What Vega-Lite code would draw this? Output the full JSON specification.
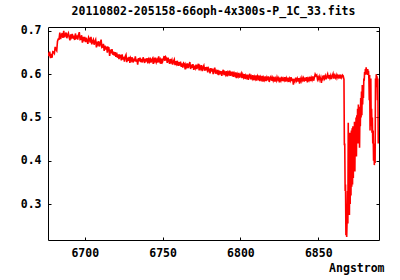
{
  "$schema": "https://vega.github.io/schema/vega-lite/v6.json",
  "autosize": "none",
  "width": 331,
  "height": 213,
  "padding": {"left": 48, "top": 27, "right": 21, "bottom": 40},
  "background": "white",
  "title": {"text": "20110802-205158-66oph-4x300s-P_1C_33.fits", "font": "DejaVu Sans Mono", "fontSize": 11.5, "fontWeight": "bold", "color": "black", "offset": 7, "anchor": "middle"},
  "config": {
    "view": {"stroke": "black", "strokeWidth": 1},
    "axis": {"domain": false, "grid": false, "labelFont": "DejaVu Sans Mono", "labelFontSize": 11.5, "labelFontWeight": "bold", "labelColor": "black", "tickColor": "black", "tickSize": -3, "tickWidth": 1, "titleFont": "DejaVu Sans Mono", "titleFontSize": 11.5, "titleFontWeight": "bold", "titleColor": "black"}
  },
  "data": {"values": [
{"w":6676.5,"f":0.650},{"w":6677.0,"f":0.642},{"w":6677.5,"f":0.652},{"w":6678.0,"f":0.637},{"w":6678.5,"f":0.647},{"w":6679.0,"f":0.638},{"w":6679.5,"f":0.652},{"w":6680.0,"f":0.651},{"w":6680.5,"f":0.648},{"w":6681.0,"f":0.663},{"w":6681.5,"f":0.657},{"w":6682.0,"f":0.654},{"w":6682.5,"f":0.676},{"w":6683.0,"f":0.681},{"w":6683.5,"f":0.681},
{"w":6684.0,"f":0.696},{"w":6684.5,"f":0.681},{"w":6685.0,"f":0.689},{"w":6685.5,"f":0.695},{"w":6686.0,"f":0.684},{"w":6686.5,"f":0.700},{"w":6687.0,"f":0.685},{"w":6687.5,"f":0.691},{"w":6688.0,"f":0.696},{"w":6688.5,"f":0.683},{"w":6689.0,"f":0.691},{"w":6689.5,"f":0.695},{"w":6690.0,"f":0.685},{"w":6690.5,"f":0.678},{"w":6691.0,"f":0.692},{"w":6691.5,"f":0.686},{"w":6692.0,"f":0.693},{"w":6692.5,"f":0.682},{"w":6693.0,"f":0.689},{"w":6693.5,"f":0.679},{"w":6694.0,"f":0.694},{"w":6694.5,"f":0.684},{"w":6695.0,"f":0.687},{"w":6695.5,"f":0.680},{"w":6696.0,"f":0.690},{"w":6696.5,"f":0.697},{"w":6697.0,"f":0.680},{"w":6697.5,"f":0.681},{"w":6698.0,"f":0.690},{"w":6698.5,"f":0.673},{"w":6699.0,"f":0.686},{"w":6699.5,"f":0.680},{"w":6700.0,"f":0.686},
{"w":6700.5,"f":0.674},{"w":6701.0,"f":0.684},{"w":6701.5,"f":0.677},{"w":6702.0,"f":0.670},{"w":6702.5,"f":0.685},{"w":6703.0,"f":0.681},{"w":6703.5,"f":0.673},{"w":6704.0,"f":0.686},{"w":6704.5,"f":0.669},{"w":6705.0,"f":0.676},{"w":6705.5,"f":0.680},{"w":6706.0,"f":0.668},{"w":6706.5,"f":0.676},{"w":6707.0,"f":0.680},{"w":6707.5,"f":0.662},{"w":6708.0,"f":0.675},{"w":6708.5,"f":0.669},{"w":6709.0,"f":0.676},{"w":6709.5,"f":0.664},{"w":6710.0,"f":0.671},{"w":6710.5,"f":0.680},{"w":6711.0,"f":0.662},{"w":6711.5,"f":0.663},{"w":6712.0,"f":0.670},{"w":6712.5,"f":0.654},{"w":6713.0,"f":0.666},{"w":6713.5,"f":0.657},{"w":6714.0,"f":0.664},{"w":6714.5,"f":0.650},{"w":6715.0,"f":0.662},{"w":6715.5,"f":0.661},{"w":6716.0,"f":0.642},{"w":6716.5,"f":0.657},{"w":6717.0,"f":0.648},{"w":6717.5,"f":0.658},{"w":6718.0,"f":0.645},{"w":6718.5,"f":0.652},{"w":6719.0,"f":0.643},{"w":6719.5,"f":0.651},{"w":6720.0,"f":0.640},
{"w":6720.5,"f":0.650},{"w":6721.0,"f":0.638},{"w":6721.5,"f":0.646},{"w":6722.0,"f":0.635},{"w":6722.5,"f":0.644},{"w":6723.0,"f":0.643},{"w":6723.5,"f":0.632},{"w":6724.0,"f":0.646},{"w":6724.5,"f":0.634},{"w":6725.0,"f":0.640},{"w":6725.5,"f":0.629},{"w":6726.0,"f":0.641},{"w":6726.5,"f":0.645},{"w":6727.0,"f":0.628},{"w":6727.5,"f":0.638},{"w":6728.0,"f":0.631},{"w":6728.5,"f":0.640},{"w":6729.0,"f":0.626},{"w":6729.5,"f":0.637},{"w":6730.0,"f":0.632},{"w":6730.5,"f":0.639},{"w":6731.0,"f":0.627},{"w":6731.5,"f":0.636},{"w":6732.0,"f":0.630},{"w":6732.5,"f":0.641},{"w":6733.0,"f":0.629},{"w":6733.5,"f":0.634},{"w":6734.0,"f":0.622},{"w":6734.5,"f":0.637},{"w":6735.0,"f":0.630},{"w":6735.5,"f":0.638},{"w":6736.0,"f":0.628},{"w":6736.5,"f":0.635},{"w":6737.0,"f":0.627},{"w":6737.5,"f":0.639},{"w":6738.0,"f":0.633},{"w":6738.5,"f":0.626},{"w":6739.0,"f":0.636},{"w":6739.5,"f":0.629},{"w":6740.0,"f":0.637},{"w":6740.5,"f":0.625},{"w":6741.0,"f":0.634},{"w":6741.5,"f":0.629},{"w":6742.0,"f":0.638},{"w":6742.5,"f":0.627},{"w":6743.0,"f":0.633},{"w":6743.5,"f":0.636},{"w":6744.0,"f":0.624},{"w":6744.5,"f":0.635},{"w":6745.0,"f":0.630},{"w":6745.5,"f":0.638},{"w":6746.0,"f":0.628},{"w":6746.5,"f":0.633},{"w":6747.0,"f":0.627},{"w":6747.5,"f":0.641},{"w":6748.0,"f":0.630},{"w":6748.5,"f":0.634},{"w":6749.0,"f":0.624},{"w":6749.5,"f":0.636},{"w":6750.0,"f":0.629},{"w":6750.5,"f":0.635},{"w":6751.0,"f":0.642},{"w":6751.5,"f":0.631},{"w":6752.0,"f":0.640},{"w":6752.5,"f":0.637},{"w":6753.0,"f":0.626},{"w":6753.5,"f":0.638},{"w":6754.0,"f":0.632},{"w":6754.5,"f":0.624},{"w":6755.0,"f":0.635},{"w":6755.5,"f":0.628},{"w":6756.0,"f":0.633},{"w":6756.5,"f":0.622},{"w":6757.0,"f":0.630},{"w":6757.5,"f":0.634},{"w":6758.0,"f":0.621},{"w":6758.5,"f":0.630},{"w":6759.0,"f":0.624},{"w":6759.5,"f":0.631},{"w":6760.0,"f":0.619},
{"w":6760.5,"f":0.628},{"w":6761.0,"f":0.620},{"w":6761.5,"f":0.629},{"w":6762.0,"f":0.617},{"w":6762.5,"f":0.625},{"w":6763.0,"f":0.615},{"w":6763.5,"f":0.626},{"w":6764.0,"f":0.624},{"w":6764.5,"f":0.611},{"w":6765.0,"f":0.622},{"w":6765.5,"f":0.617},{"w":6766.0,"f":0.625},{"w":6766.5,"f":0.614},{"w":6767.0,"f":0.621},{"w":6767.5,"f":0.628},{"w":6768.0,"f":0.612},{"w":6768.5,"f":0.622},{"w":6769.0,"f":0.615},{"w":6769.5,"f":0.623},{"w":6770.0,"f":0.610},{"w":6770.5,"f":0.620},{"w":6771.0,"f":0.614},{"w":6771.5,"f":0.622},{"w":6772.0,"f":0.612},{"w":6772.5,"f":0.619},{"w":6773.0,"f":0.624},{"w":6773.5,"f":0.609},{"w":6774.0,"f":0.618},{"w":6774.5,"f":0.613},{"w":6775.0,"f":0.621},{"w":6775.5,"f":0.607},{"w":6776.0,"f":0.616},{"w":6776.5,"f":0.620},{"w":6777.0,"f":0.608},{"w":6777.5,"f":0.616},{"w":6778.0,"f":0.609},{"w":6778.5,"f":0.617},{"w":6779.0,"f":0.604},{"w":6779.5,"f":0.614},{"w":6780.0,"f":0.611},{"w":6780.5,"f":0.602},{"w":6781.0,"f":0.614},{"w":6781.5,"f":0.606},{"w":6782.0,"f":0.613},{"w":6782.5,"f":0.600},{"w":6783.0,"f":0.609},{"w":6783.5,"f":0.615},{"w":6784.0,"f":0.601},{"w":6784.5,"f":0.607},{"w":6785.0,"f":0.603},{"w":6785.5,"f":0.610},{"w":6786.0,"f":0.598},{"w":6786.5,"f":0.608},{"w":6787.0,"f":0.600},{"w":6787.5,"f":0.607},{"w":6788.0,"f":0.596},{"w":6788.5,"f":0.605},{"w":6789.0,"f":0.610},{"w":6789.5,"f":0.598},{"w":6790.0,"f":0.604},{"w":6790.5,"f":0.599},{"w":6791.0,"f":0.607},{"w":6791.5,"f":0.595},{"w":6792.0,"f":0.604},{"w":6792.5,"f":0.600},{"w":6793.0,"f":0.608},{"w":6793.5,"f":0.596},{"w":6794.0,"f":0.603},{"w":6794.5,"f":0.599},{"w":6795.0,"f":0.606},{"w":6795.5,"f":0.594},{"w":6796.0,"f":0.602},{"w":6796.5,"f":0.597},{"w":6797.0,"f":0.604},{"w":6797.5,"f":0.591},{"w":6798.0,"f":0.600},{"w":6798.5,"f":0.595},{"w":6799.0,"f":0.603},{"w":6799.5,"f":0.592},{"w":6800.0,"f":0.598},
{"w":6800.5,"f":0.602},{"w":6801.0,"f":0.591},{"w":6801.5,"f":0.599},{"w":6802.0,"f":0.593},{"w":6802.5,"f":0.600},{"w":6803.0,"f":0.589},{"w":6803.5,"f":0.597},{"w":6804.0,"f":0.592},{"w":6804.5,"f":0.599},{"w":6805.0,"f":0.587},{"w":6805.5,"f":0.596},{"w":6806.0,"f":0.601},{"w":6806.5,"f":0.588},{"w":6807.0,"f":0.595},{"w":6807.5,"f":0.590},{"w":6808.0,"f":0.598},{"w":6808.5,"f":0.586},{"w":6809.0,"f":0.594},{"w":6809.5,"f":0.589},{"w":6810.0,"f":0.597},{"w":6810.5,"f":0.585},{"w":6811.0,"f":0.595},{"w":6811.5,"f":0.590},{"w":6812.0,"f":0.597},{"w":6812.5,"f":0.584},{"w":6813.0,"f":0.593},{"w":6813.5,"f":0.588},{"w":6814.0,"f":0.596},{"w":6814.5,"f":0.583},{"w":6815.0,"f":0.592},{"w":6815.5,"f":0.587},{"w":6816.0,"f":0.595},{"w":6816.5,"f":0.584},{"w":6817.0,"f":0.592},{"w":6817.5,"f":0.586},{"w":6818.0,"f":0.595},{"w":6818.5,"f":0.582},{"w":6819.0,"f":0.591},{"w":6819.5,"f":0.594},{"w":6820.0,"f":0.585},{"w":6820.5,"f":0.592},{"w":6821.0,"f":0.586},{"w":6821.5,"f":0.594},{"w":6822.0,"f":0.583},{"w":6822.5,"f":0.590},{"w":6823.0,"f":0.585},{"w":6823.5,"f":0.593},{"w":6824.0,"f":0.587},{"w":6824.5,"f":0.591},{"w":6825.0,"f":0.581},{"w":6825.5,"f":0.592},{"w":6826.0,"f":0.586},{"w":6826.5,"f":0.594},{"w":6827.0,"f":0.584},{"w":6827.5,"f":0.590},{"w":6828.0,"f":0.586},{"w":6828.5,"f":0.593},{"w":6829.0,"f":0.583},{"w":6829.5,"f":0.591},{"w":6830.0,"f":0.586},{"w":6830.5,"f":0.592},{"w":6831.0,"f":0.582},{"w":6831.5,"f":0.590},{"w":6832.0,"f":0.585},{"w":6832.5,"f":0.593},{"w":6833.0,"f":0.584},{"w":6833.5,"f":0.590},{"w":6834.0,"f":0.576},{"w":6834.5,"f":0.589},{"w":6835.0,"f":0.584},{"w":6835.5,"f":0.592},{"w":6836.0,"f":0.585},{"w":6836.5,"f":0.590},{"w":6837.0,"f":0.583},{"w":6837.5,"f":0.591},{"w":6838.0,"f":0.578},{"w":6838.5,"f":0.589},{"w":6839.0,"f":0.584},{"w":6839.5,"f":0.592},{"w":6840.0,"f":0.586},{"w":6840.5,"f":0.591},{"w":6841.0,"f":0.583},{"w":6841.5,"f":0.592},{"w":6842.0,"f":0.585},{"w":6842.5,"f":0.593},{"w":6843.0,"f":0.581},{"w":6843.5,"f":0.590},{"w":6844.0,"f":0.586},{"w":6844.5,"f":0.594},{"w":6845.0,"f":0.584},{"w":6845.5,"f":0.592},{"w":6846.0,"f":0.587},{"w":6846.5,"f":0.595},{"w":6847.0,"f":0.585},{"w":6847.5,"f":0.592},{"w":6848.0,"f":0.600},{"w":6848.5,"f":0.596},{"w":6849.0,"f":0.598},{"w":6849.5,"f":0.588},{"w":6850.0,"f":0.593},{"w":6850.5,"f":0.587},{"w":6851.0,"f":0.595},{"w":6851.5,"f":0.589},{"w":6852.0,"f":0.580},{"w":6852.5,"f":0.593},{"w":6853.0,"f":0.589},{"w":6853.5,"f":0.597},{"w":6854.0,"f":0.590},{"w":6854.5,"f":0.596},{"w":6855.0,"f":0.588},{"w":6855.5,"f":0.595},{"w":6856.0,"f":0.600},{"w":6856.5,"f":0.590},{"w":6857.0,"f":0.598},{"w":6857.5,"f":0.591},{"w":6858.0,"f":0.597},{"w":6858.5,"f":0.589},{"w":6859.0,"f":0.596},{"w":6859.5,"f":0.601},{"w":6860.0,"f":0.590},{"w":6860.5,"f":0.597},{"w":6861.0,"f":0.592},{"w":6861.5,"f":0.598},{"w":6862.0,"f":0.591},{"w":6862.5,"f":0.597},{"w":6863.0,"f":0.593},{"w":6863.5,"f":0.599},{"w":6864.0,"f":0.590},{"w":6864.5,"f":0.596},{"w":6865.0,"f":0.592},{"w":6865.5,"f":0.598},
{"w":6866.0,"f":0.596},{"w":6866.25,"f":0.592},{"w":6866.5,"f":0.588},{"w":6866.75,"f":0.436},{"w":6867.0,"f":0.440},{"w":6867.25,"f":0.330},{"w":6867.5,"f":0.345},{"w":6867.75,"f":0.228},{"w":6868.0,"f":0.300},{"w":6868.25,"f":0.224},{"w":6868.5,"f":0.262},{"w":6868.75,"f":0.330},{"w":6869.0,"f":0.255},{"w":6869.25,"f":0.488},{"w":6869.5,"f":0.290},{"w":6869.75,"f":0.420},{"w":6870.0,"f":0.275},{"w":6870.25,"f":0.465},{"w":6870.5,"f":0.300},{"w":6870.75,"f":0.445},{"w":6871.0,"f":0.320},{"w":6871.25,"f":0.470},{"w":6871.5,"f":0.340},{"w":6871.75,"f":0.475},{"w":6872.0,"f":0.345},{"w":6872.25,"f":0.480},{"w":6872.5,"f":0.360},{"w":6872.75,"f":0.470},{"w":6873.0,"f":0.390},{"w":6873.25,"f":0.490},{"w":6873.5,"f":0.375},{"w":6873.75,"f":0.485},{"w":6874.0,"f":0.420},{"w":6874.25,"f":0.500},{"w":6874.5,"f":0.410},{"w":6874.75,"f":0.505},{"w":6875.0,"f":0.450},{"w":6875.25,"f":0.520},{"w":6875.5,"f":0.440},{"w":6875.75,"f":0.530},{"w":6876.0,"f":0.470},{"w":6876.25,"f":0.525},{"w":6876.5,"f":0.430},{"w":6876.75,"f":0.510},{"w":6877.0,"f":0.480},{"w":6877.25,"f":0.545},{"w":6877.5,"f":0.500},{"w":6877.75,"f":0.560},{"w":6878.0,"f":0.505},{"w":6878.25,"f":0.575},{"w":6878.5,"f":0.530},{"w":6878.75,"f":0.570},{"w":6879.0,"f":0.545},{"w":6879.25,"f":0.590},{"w":6879.5,"f":0.585},{"w":6879.75,"f":0.605},{"w":6880.0,"f":0.598},{"w":6880.25,"f":0.612},{"w":6880.5,"f":0.600},{"w":6880.75,"f":0.616},{"w":6881.0,"f":0.605},{"w":6881.25,"f":0.610},{"w":6881.5,"f":0.598},{"w":6881.75,"f":0.612},{"w":6882.0,"f":0.600},{"w":6882.25,"f":0.608},{"w":6882.5,"f":0.590},{"w":6882.75,"f":0.540},{"w":6883.0,"f":0.598},{"w":6883.25,"f":0.470},{"w":6883.5,"f":0.560},{"w":6883.75,"f":0.590},{"w":6884.0,"f":0.480},{"w":6884.25,"f":0.520},{"w":6884.5,"f":0.465},{"w":6884.75,"f":0.500},{"w":6885.0,"f":0.440},{"w":6885.25,"f":0.470},{"w":6885.5,"f":0.400},{"w":6885.75,"f":0.440},{"w":6886.0,"f":0.390},{"w":6886.25,"f":0.420},{"w":6886.5,"f":0.395},{"w":6886.75,"f":0.590},{"w":6887.0,"f":0.570},{"w":6887.25,"f":0.600},{"w":6887.5,"f":0.585},{"w":6887.75,"f":0.595},{"w":6888.0,"f":0.540},{"w":6888.25,"f":0.590},{"w":6888.5,"f":0.440},{"w":6888.75,"f":0.470}
  ]},
  "layer": [
    {
      "mark": {"type": "line", "color": "#ff0000", "strokeWidth": 1.6, "clip": true},
      "encoding": {
        "x": {"field": "w", "type": "quantitative", "scale": {"domain": [6676.4, 6889], "nice": false, "zero": false},
              "axis": {"orient": "bottom", "values": [6700, 6750, 6800, 6850], "format": "d", "labelPadding": 10, "title": "Angstrom", "titleAnchor": "end", "titleAlign": "right", "titleX": 336, "titleY": 28, "titleBaseline": "middle"}},
        "y": {"field": "f", "type": "quantitative", "scale": {"domain": [0.217, 0.709], "nice": false, "zero": false},
              "axis": {"orient": "left", "values": [0.3, 0.4, 0.5, 0.6, 0.7], "format": ".1f", "labelPadding": 10, "title": null}}
      }
    },
    {
      "mark": {"type": "point", "opacity": 0},
      "encoding": {
        "x": {"field": "w", "type": "quantitative", "axis": {"orient": "top", "values": [6700, 6750, 6800, 6850], "labels": false, "title": null}},
        "y": {"field": "f", "type": "quantitative", "axis": {"orient": "right", "values": [0.3, 0.4, 0.5, 0.6, 0.7], "labels": false, "title": null}}
      }
    }
  ],
  "resolve": {"axis": {"x": "independent", "y": "independent"}}
}
